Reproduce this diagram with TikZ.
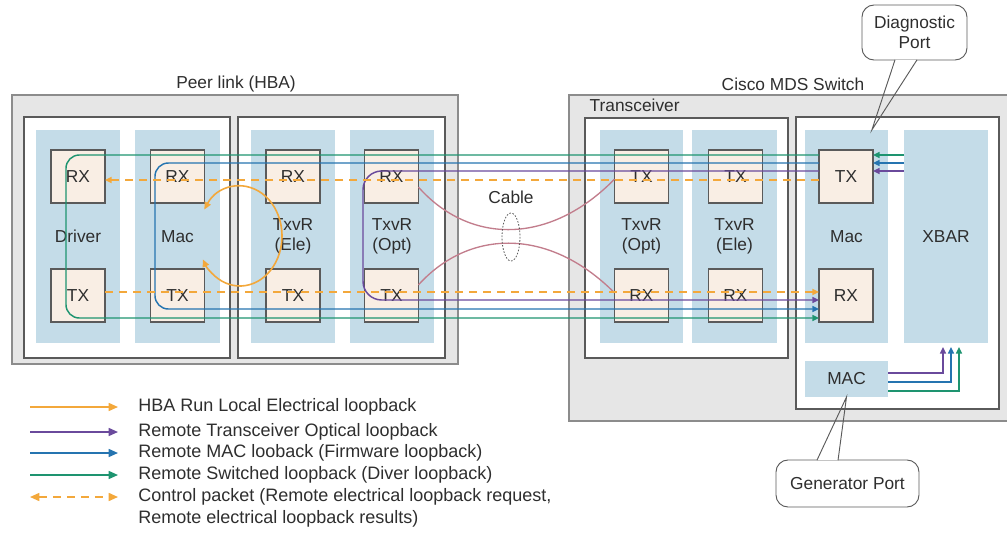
\documentclass[tikz,border=0pt]{standalone}
\usepackage{fontspec}
\setmainfont{Liberation Sans}
\usetikzlibrary{arrows.meta,calc}
\definecolor{og}{HTML}{F3A83B}
\definecolor{pu}{HTML}{6A4A9C}
\definecolor{bl}{HTML}{2574B0}
\definecolor{gr}{HTML}{1E9470}
\definecolor{pk}{HTML}{C27D8C}
\definecolor{outerfill}{HTML}{E6E6E6}
\definecolor{bordergrey}{HTML}{8C8C8C}
\definecolor{darkgrey}{HTML}{5A5A5A}
\definecolor{colfill}{HTML}{C4DCE8}
\definecolor{portfill}{HTML}{F9EEE4}
\definecolor{txt}{HTML}{2E2E2E}
\begin{document}
\begin{tikzpicture}[x=0.75pt,y=-0.75pt,
  font=\fontsize{13}{15}\selectfont, text=txt,
  sz/.style 2 args={minimum width=#1*0.75pt, minimum height=#2*0.75pt},
  outerbox/.style={draw=bordergrey, fill=outerfill, line width=1pt, inner sep=0pt, outer sep=0pt},
  whitebox/.style={draw=darkgrey, fill=white, line width=0.9pt, inner sep=0pt, outer sep=0pt},
  colbox/.style={fill=colfill, inner sep=0pt, outer sep=0pt, align=center},
  portbox/.style={draw=darkgrey, fill=portfill, line width=0.8pt, inner sep=0pt, outer sep=0pt, sz={54}{53}},
  bubble/.style={draw=darkgrey, fill=white, line width=0.7pt, rounded corners=9pt, align=center, inner sep=0pt},
  legtext/.style={anchor=west, inner sep=0pt, font=\fontsize{13.5}{15}\selectfont},
  tip/.style={-{Triangle[length=5pt,width=4.5pt]}},
  lgtip/.style={-{Triangle[length=7pt,width=6pt]}},
  wire/.style={line width=1.1pt},
  ctrl/.style={og, line width=1.2pt, dash pattern=on 6pt off 4.5pt},
]
\useasboundingbox (0,0) rectangle (1007,536);
\clip (0,0) rectangle (1007,536);

% outer boxes
\node[outerbox, sz={446}{269}] (peer) at (235,229.5) {};
\node[outerbox, sz={446}{326}] (switch) at (792,258) {};
\node (peerlbl) at (236,84) {Peer link (HBA)};
\node (swlbl) at (793,84) {Cisco MDS Switch};

% inner white boxes
\node[whitebox, sz={206}{241}] (hb1) at (127,237.5) {};
\node[whitebox, sz={207}{241}] (hb2) at (341.5,237.5) {};
\node[whitebox, sz={203}{240}] (trx) at (686.5,238) {};
\node[whitebox, sz={203}{292}] (swb) at (897.5,263) {};
\node[anchor=west] (trxlbl) at (585,105) {Transceiver};

% columns
\node[colbox, sz={84}{213}] (drv) at (78,236.5) {Driver};
\node[colbox, sz={85}{213}] (hmac) at (177.5,236.5) {Mac};
\node[colbox, sz={84}{213}] (hele) at (293,236.5) {TxvR\\(Ele)};
\node[colbox, sz={84}{213}] (hopt) at (392,236.5) {TxvR\\(Opt)};
\node[colbox, sz={83}{213}] (sopt) at (641.5,236.5) {TxvR\\(Opt)};
\node[colbox, sz={85}{213}] (sele) at (734.5,236.5) {TxvR\\(Ele)};
\node[colbox, sz={83}{213}] (smac) at (846.5,236.5) {Mac};
\node[colbox, sz={84}{213}] (xbar) at (946,236.5) {XBAR};
\node[colbox, sz={83}{36}] (mac) at (846.5,379) {MAC};

% port boxes
\node[portbox] (drvRX) at (78,176.5) {RX};
\node[portbox] (drvTX) at (78,295.5) {TX};
\node[portbox] (hmacRX) at (177.5,176.5) {RX};
\node[portbox] (hmacTX) at (177.5,295.5) {TX};
\node[portbox] (heleRX) at (293,176.5) {RX};
\node[portbox] (heleTX) at (293,295.5) {TX};
\node[portbox] (hoptRX) at (391.5,176.5) {RX};
\node[portbox] (hoptTX) at (391.5,295.5) {TX};
\node[portbox] (soptTX) at (641.5,176.5) {TX};
\node[portbox] (soptRX) at (641.5,295.5) {RX};
\node[portbox] (seleTX) at (735.5,176.5) {TX};
\node[portbox] (seleRX) at (735.5,295.5) {RX};
\node[portbox] (smacTX) at (846,176.5) {TX};
\node[portbox] (smacRX) at (846,295.5) {RX};

% lane coordinates
\coordinate (gT) at (0,155);
\coordinate (bT) at (0,163);
\coordinate (pT) at (0,171);
\coordinate (oT) at (0,180);
\coordinate (oB) at (0,292);
\coordinate (pB) at (0,300);
\coordinate (bB) at (0,309);
\coordinate (gB) at (0,318);
\coordinate (gX) at (66,0);
\coordinate (bX) at (155,0);
\coordinate (pX) at (363,0);

% cable
\draw[pk, line width=1pt] ([yshift=-8pt]hoptRX.east) .. controls (470,245) and (550,245) .. ([yshift=-2pt]soptTX.west);
\draw[pk, line width=1pt] ([yshift=8pt]hoptTX.east) .. controls (470,228) and (550,228) .. ([yshift=2pt]soptRX.west);
\coordinate (cablec) at (511,237);
\draw[darkgrey, line width=0.6pt, dash pattern=on 1.2pt off 1.2pt] (cablec) ellipse [x radius=9, y radius=24];
\node (cablelbl) at (511,197) {Cable};

% local electrical loop
\coordinate (loopc) at (240,236);
\draw[og, line width=1.2pt, {Triangle[length=5.5pt,width=5pt]}-{Triangle[length=5.5pt,width=5pt]}]
  ($(loopc)+(-148:42 and 50)$) arc[start angle=-148, end angle=152, x radius=42, y radius=50];

% loopback wires
\draw[gr, wire, rounded corners=10pt, tip] (smacTX.west |- gT) -- (gX |- gT) -- (gX |- gB) -- (smacRX.west |- gB);
\draw[bl, wire, rounded corners=10pt, tip] (smacTX.west |- bT) -- (bX |- bT) -- (bX |- bB) -- (smacRX.west |- bB);
\draw[pu, wire, rounded corners=14pt, tip] (smacTX.west |- pT) -- (pX |- pT) -- (pX |- pB) -- (smacRX.west |- pB);

% control packets
\draw[ctrl, tip] (smacTX.west |- oT) -- (drvRX.east |- oT);
\draw[ctrl, tip] (drvTX.east |- oB) -- (smacRX.west |- oB);

% xbar to mac tx
\draw[gr, wire, tip] (xbar.west |- gT) -- (smacTX.east |- gT);
\draw[bl, wire, tip] (xbar.west |- bT) -- (smacTX.east |- bT);
\draw[pu, wire, tip] (xbar.west |- pT) -- (smacTX.east |- pT);

% generator MAC to xbar
\coordinate (mpY) at (0,373);
\coordinate (mbY) at (0,382);
\coordinate (mgY) at (0,391);
\coordinate (xbY) at (0,347);
\coordinate (mpX) at (943,0);
\coordinate (mbX) at (951,0);
\coordinate (mgX) at (959,0);
\draw[pu, wire, tip] (mac.east |- mpY) -| (mpX |- xbY);
\draw[bl, wire, tip] (mac.east |- mbY) -| (mbX |- xbY);
\draw[gr, wire, tip] (mac.east |- mgY) -| (mgX |- xbY);

% callouts
\node[bubble, sz={105}{55}] (diag) at (914.5,32.5) {Diagnostic\\Port};
\draw[white, line width=1.2pt] ([xshift=-14.6pt]diag.south) -- ([xshift=1.9pt]diag.south);
\draw[darkgrey, line width=0.7pt] ([xshift=-14.6pt,yshift=0.5pt]diag.south) -- ([xshift=19pt]smac.north) -- ([xshift=1.9pt,yshift=0.5pt]diag.south);

\node[bubble, sz={143}{47}] (gen) at (847.5,483.5) {Generator Port};
\draw[white, line width=1.2pt] ([xshift=-22.9pt]gen.north) -- ([xshift=-7.1pt]gen.north);
\draw[darkgrey, line width=0.7pt] ([xshift=-22.9pt,yshift=-0.5pt]gen.north) -- (mac.south) -- ([xshift=-7.1pt,yshift=-0.5pt]gen.north);

% legend
\node[legtext] (lg1) at (138,407) {HBA Run Local Electrical loopback};
\node[legtext] (lg2) at (138,432) {Remote Transceiver Optical loopback};
\node[legtext] (lg3) at (138,453) {Remote MAC looback (Firmware loopback)};
\node[legtext] (lg4) at (138,475) {Remote Switched loopback (Diver loopback)};
\node[legtext] (lg5) at (138,497) {Control packet (Remote electrical loopback request,};
\node[legtext] (lg6) at (138,519) {Remote electrical loopback results)};
\coordinate (lx1) at (30,0);
\coordinate (lx2) at (118,0);
\draw[og, wire, lgtip] (lx1 |- lg1.west) -- (lx2 |- lg1.west);
\draw[pu, wire, lgtip] (lx1 |- lg2.west) -- (lx2 |- lg2.west);
\draw[bl, wire, lgtip] (lx1 |- lg3.west) -- (lx2 |- lg3.west);
\draw[gr, wire, lgtip] (lx1 |- lg4.west) -- (lx2 |- lg4.west);
\draw[ctrl, {Triangle[length=7pt,width=6pt]}-{Triangle[length=7pt,width=6pt]}] (lx1 |- lg5.west) -- (lx2 |- lg5.west);
\end{tikzpicture}
\end{document}
